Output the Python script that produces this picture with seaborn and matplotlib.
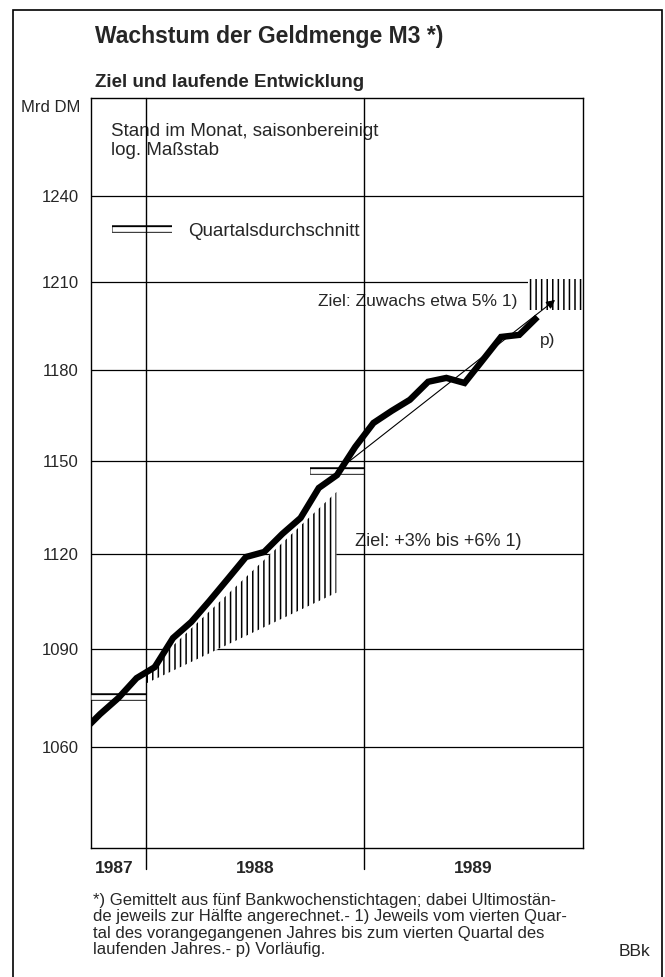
import matplotlib
matplotlib.use("Agg")
import matplotlib.pyplot as plt
import matplotlib.patheffects as pe
from matplotlib.lines import Line2D
from matplotlib.patches import Rectangle
from matplotlib.ticker import FixedLocator, NullLocator
import pandas as pd
import seaborn as sns

# Geldmenge M3, Stand im Monat, saisonbereinigt (Mrd DM)
months = ["1987-09", "1987-10", "1987-11", "1987-12",
          "1988-01", "1988-02", "1988-03", "1988-04", "1988-05", "1988-06",
          "1988-07", "1988-08", "1988-09", "1988-10", "1988-11", "1988-12",
          "1989-01", "1989-02", "1989-03", "1989-04", "1989-05", "1989-06",
          "1989-07", "1989-08", "1989-09", "1989-10"]
m3 = [1064.5, 1070.0, 1074.9, 1081.0,
      1084.4, 1093.4, 1098.4, 1105.0, 1111.9, 1118.9,
      1120.5, 1126.3, 1131.4, 1141.1, 1145.3, 1154.5,
      1162.4, 1166.4, 1170.1, 1176.1, 1177.4, 1175.7,
      1183.4, 1191.2, 1191.9, 1198.0]

# Quartalsdurchschnitte
quarters = ["1987Q4", "1988Q4"]
quarter_avg = [1075.3, 1146.5]

# Zielkorridor 1988 (+3% bis +6%)
corr88_dates = ["1988-01-01", "1988-11-15"]
corr88_low = [1079.3, 1107.6]
corr88_high = [1083.1, 1139.8]

# Ziel 1989: Zuwachs etwa 5%
target89_dates = ["1989-10-01", "1990-01-01"]
target89_low = [1200.5, 1200.5]
target89_high = [1211.0, 1211.0]
target89_line_dates = ["1988-11-15", "1989-11-15"]
target89_line_vals = [1146.5, 1203.8]

yticks = [1060, 1090, 1120, 1150, 1180, 1210, 1240]
years = ["1987", "1988", "1989"]


def mpos(d):
    # month scale: 0 = start of Oct 1987
    d = pd.Timestamp(d)
    return (d.year - 1987) * 12 + d.month - 10 + (d.day - 1) / d.days_in_month


sns.set_style("white")
plt.rcParams["font.family"] = ["Liberation Sans", "DejaVu Sans"]
plt.rcParams["hatch.linewidth"] = 1.1

fig = plt.figure(figsize=(6.65, 9.77), dpi=100)
ax = fig.add_axes([91 / 665, 1 - 848 / 977, 492 / 665, 750 / 977])

df = pd.DataFrame({"month": months, "m3": m3})
df["x"] = [mpos(m + "-01") + 0.5 for m in df["month"]]
sns.lineplot(data=df, x="x", y="m3", color="black", lw=4.6, ax=ax, zorder=5,
             solid_joinstyle="miter", solid_capstyle="butt")

ax.set_yscale("log")
ax.set_xlim(0, 27)
ax.set_ylim(1030, 1275)

# target corridor 1988
ax.fill_between([mpos(d) for d in corr88_dates], corr88_low, corr88_high,
                facecolor="white", edgecolor="black", hatch="|||", linewidth=0, zorder=2)
# target 1989
ax.fill_between([mpos(d) for d in target89_dates], target89_low, target89_high,
                facecolor="white", edgecolor="black", hatch="|||", linewidth=0, zorder=2)
ax.annotate("", xy=(mpos(target89_line_dates[1]), target89_line_vals[1]),
            xytext=(mpos(target89_line_dates[0]), target89_line_vals[0]),
            arrowprops=dict(arrowstyle="-|>", color="black", lw=0.8,
                            mutation_scale=13, shrinkA=0, shrinkB=0), zorder=4)

# quarterly averages as double lines
double = [pe.Stroke(linewidth=5.4, foreground="black"), pe.Normal()]
for q, v in zip(quarters, quarter_avg):
    p = pd.Period(q, freq="Q")
    x0 = mpos(p.start_time)
    x1 = mpos(p.end_time.normalize() + pd.Timedelta(days=1))
    ax.plot([x0, x1], [v, v], color="white", lw=3.4, path_effects=double, zorder=3,
            solid_capstyle="butt")

# year separators
for y in years[1:]:
    ax.axvline(mpos(y + "-01-01"), ymin=-0.028, ymax=1, color="black", lw=1.0,
               clip_on=False, zorder=6)

# axes styling
ax.yaxis.set_major_locator(FixedLocator(yticks))
ax.yaxis.set_minor_locator(NullLocator())
ax.set_yticklabels([str(t) for t in yticks], fontsize=12)
ax.tick_params(axis="y", length=0, pad=9)
ax.yaxis.grid(True, color="black", lw=0.9)
ax.set_axisbelow(True)

ax.set_xticks(range(0, 28, 3))
ax.set_xticks(range(0, 28), minor=True)
ax.set_xticklabels([])
ax.tick_params(axis="x", which="major", direction="in", length=8.5, width=1.0)
ax.tick_params(axis="x", which="minor", direction="in", length=5, width=1.0)
ax.set_xlabel("")
ax.set_ylabel("")
for s in ax.spines.values():
    s.set_visible(True)
    s.set_color("black")
    s.set_linewidth(1.0)

# year labels
trans = ax.get_xaxis_transform()
ax.text(mpos("1987-10-01") + 0.2, -0.027, years[0], transform=trans, ha="left",
        va="center", fontsize=12.5, fontweight="bold")
ax.text(mpos("1988-07-01"), -0.027, years[1], transform=trans, ha="center",
        va="center", fontsize=12.5, fontweight="bold")
ax.text(mpos("1989-07-01"), -0.027, years[2], transform=trans, ha="center",
        va="center", fontsize=12.5, fontweight="bold")

# annotations in the plot
ax.text(0.0407, 0.966, "Stand im Monat, saisonbereinigt\nlog. Maßstab",
        transform=ax.transAxes, ha="left", va="top", fontsize=13.5, linespacing=1.15)
ax.text(0.866, 0.7293, "Ziel: Zuwachs etwa 5% 1)", transform=ax.transAxes,
        ha="right", va="center", fontsize=12.5)
ax.text(0.929, 0.677, "p)", transform=ax.transAxes, ha="center", va="center", fontsize=12.5)
ax.text(0.5366, 0.408, "Ziel: +3% bis +6% 1)", transform=ax.transAxes,
        ha="left", va="center", fontsize=13)

handle = Line2D([], [], color="white", lw=3.4, path_effects=double, solid_capstyle="butt")
ax.legend([handle], ["Quartalsdurchschnitt"], loc="center left",
          bbox_to_anchor=(0.0427, 0.8227), frameon=False, fontsize=13.5,
          handlelength=3.2, handletextpad=0.85, borderpad=0, borderaxespad=0)

# figure texts
fig.text(95 / 665, 1 - 43 / 977, "Wachstum der Geldmenge M3 *)", ha="left",
         va="baseline", fontsize=16.5, fontweight="bold")
fig.text(95 / 665, 1 - 87 / 977, "Ziel und laufende Entwicklung", ha="left",
         va="baseline", fontsize=13.5, fontweight="bold")
fig.text(21 / 665, 1 - 108 / 977, "Mrd DM", ha="left", va="center", fontsize=12)
fig.text(93 / 665, 1 - 893 / 977,
         "*) Gemittelt aus fünf Bankwochenstichtagen; dabei Ultimostän-\n"
         "de jeweils zur Hälfte angerechnet.- 1) Jeweils vom vierten Quar-\n"
         "tal des vorangegangenen Jahres bis zum vierten Quartal des\n"
         "laufenden Jahres.- p) Vorläufig.",
         ha="left", va="top", fontsize=12, linespacing=1.12)
fig.text(650 / 665, 1 - 951 / 977, "BBk", ha="right", va="center", fontsize=12.5)

fig.add_artist(Rectangle((13 / 665, -0.01), (662 - 13) / 665, 1 - 10 / 977 + 0.01,
                         transform=fig.transFigure, fill=False, lw=1.2, color="black"))

fig.savefig("out.png", dpi=100)
